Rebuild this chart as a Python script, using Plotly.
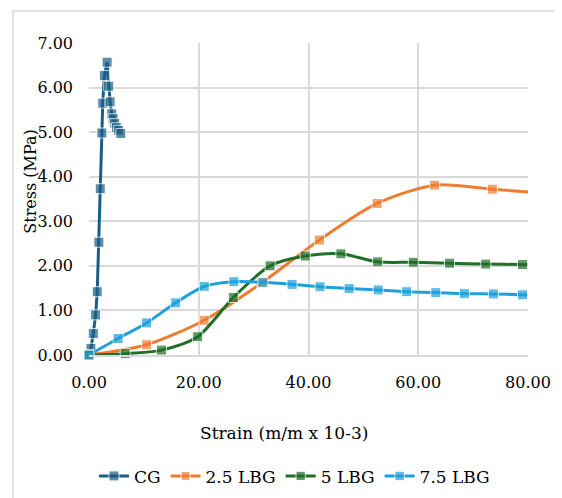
import plotly.graph_objects as go

# ---- data ----
cg_x = [0, 0.35, 0.78, 1.2, 1.5, 1.8, 2.05, 2.35, 2.5, 2.8, 3.3, 3.6, 3.85, 4.15, 4.4, 4.7, 5.0, 5.4, 5.8]
cg_y = [0, 0.15, 0.48, 0.90, 1.42, 2.53, 3.73, 4.98, 5.65, 6.27, 6.57, 6.03, 5.68, 5.41, 5.30, 5.19, 5.10, 5.04, 4.97]

lbg25_x = [0, 10.5, 21.0, 31.5, 42.0, 52.5, 63.0, 73.5, 84.0]
lbg25_y = [0, 0.23, 0.78, 1.62, 2.58, 3.40, 3.81, 3.72, 3.62]

lbg5_x = [0, 6.6, 13.2, 19.8, 26.3, 33.0, 39.4, 45.9, 52.6, 59.1, 65.7, 72.3, 79.0, 85.6]
lbg5_y = [0, 0.03, 0.11, 0.41, 1.29, 2.00, 2.22, 2.27, 2.09, 2.08, 2.06, 2.04, 2.03, 2.02]

lbg75_x = [0, 5.3, 10.5, 15.8, 21.0, 26.4, 31.7, 37.0, 42.1, 47.4, 52.7, 57.9, 63.2, 68.4, 73.7, 79.0, 84.3]
lbg75_y = [0, 0.37, 0.72, 1.17, 1.54, 1.645, 1.63, 1.585, 1.53, 1.49, 1.46, 1.42, 1.40, 1.375, 1.37, 1.35, 1.34]

x_ticks = [0, 20, 40, 60, 80]
y_ticks = [0, 1, 2, 3, 4, 5, 6, 7]
x_title = "Strain (m/m x 10-3)"
y_title = "Stress (MPa)"

FONT = "DejaVu Serif"
GRID = "#d9d9d9"
X_MAX, Y_MAX = 80, 7


def sizes(xs, size=10):
    # hide markers of points that lie beyond the visible x range
    return [size if x <= X_MAX else 0 for x in xs]


fig = go.Figure()
series = [
    ("CG", cg_x, cg_y, "#1a5d86", "linear"),
    ("2.5 LBG", lbg25_x, lbg25_y, "#ed7d31", "spline"),
    ("5 LBG", lbg5_x, lbg5_y, "#1f6f28", "spline"),
    ("7.5 LBG", lbg75_x, lbg75_y, "#1da1da", "spline"),
]
for name, xs, ys, col, shape in series:
    fig.add_trace(go.Scatter(
        x=xs, y=ys, name=name, mode="lines+markers",
        line=dict(color=col, width=3, shape=shape, smoothing=0.8),
        marker=dict(symbol="square", size=sizes(xs), color=col),
        cliponaxis=False,
    ))

# the page body adds an 8px offset, so the figure is drawn 8px smaller
fig.update_layout(
    width=554, height=490,
    margin=dict(l=81, r=34, t=35, b=143, autoexpand=False),
    paper_bgcolor="white", plot_bgcolor="white",
    font=dict(family=FONT, size=17, color="#000000"),
    showlegend=True,
    legend=dict(orientation="h", x=0.468, xanchor="center", y=-0.389, yanchor="middle",
                font=dict(family=FONT, size=17, color="#000000"),
                tracegroupgap=0, bgcolor="rgba(0,0,0,0)"),
    xaxis=dict(range=[0, X_MAX], tickvals=x_ticks, tickformat=".2f",
               showgrid=True, gridcolor=GRID, gridwidth=1.5,
               zeroline=False, showline=True, linecolor=GRID, linewidth=1.5,
               ticks="", ticklabelstandoff=12, automargin=False,
               tickfont=dict(family=FONT, size=16, color="#000000")),
    yaxis=dict(range=[0, Y_MAX], tickvals=y_ticks, tickformat=".2f",
               showgrid=True, gridcolor=GRID, gridwidth=1.5,
               zeroline=False, showline=False,
               ticks="", ticklabelstandoff=15, automargin=False,
               tickfont=dict(family=FONT, size=16, color="#000000")),
    annotations=[
        dict(text=x_title, xref="paper", yref="paper", x=0.444, y=-0.249,
             xanchor="center", yanchor="middle", showarrow=False,
             font=dict(family=FONT, size=17, color="#000000")),
        dict(text=y_title, xref="paper", yref="paper", x=-0.134, y=0.556,
             xanchor="center", yanchor="middle", showarrow=False, textangle=-90,
             font=dict(family=FONT, size=16, color="#000000")),
    ],
    shapes=[
        dict(type="rect", xref="paper", yref="paper", x0=-0.1731, x1=1.2, y0=-0.7, y1=1.1026,
             line=dict(color=GRID, width=1.5), fillcolor="rgba(0,0,0,0)", layer="below"),
    ],
)

fig.write_html("out.html")
